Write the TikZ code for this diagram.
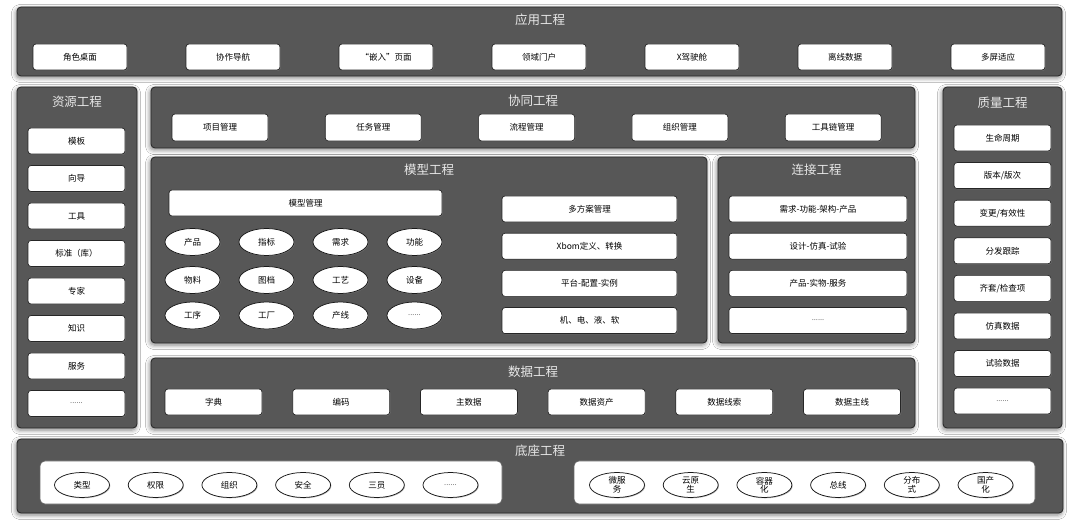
\documentclass[tikz,border=0pt]{standalone}
\usepackage{fontspec}
\setmainfont{Noto Sans CJK SC}
\usetikzlibrary{shapes.geometric,shadows,shadows.blur}
\definecolor{panelc}{HTML}{575757}
\definecolor{titlec}{HTML}{E8E8E8}
\definecolor{dotc}{HTML}{707070}
\newcommand{\mydots}{\textcolor{dotc}{\fontsize{7.5}{7.5}\selectfont ......}}
\begin{document}
\begin{tikzpicture}[x=1pt,y=-1pt,
  panel/.style={draw=black!85, fill=panelc, rounded corners=4pt, line width=0.8pt,
    blur shadow={shadow xshift=-1pt, shadow yshift=-2pt, shadow blur radius=4.5pt, shadow opacity=50}},
  inner/.style={draw=black!60, fill=white, rounded corners=5pt, line width=0.6pt},
  ptitle/.style={text=titlec, font=\fontsize{12.5}{13}\selectfont, inner sep=0pt},
  wbox/.style={draw=black!85, fill=white, rounded corners=3pt, line width=0.7pt,
    font=\fontsize{8.5}{9}\selectfont, inner sep=0pt,
    drop shadow={shadow xshift=0.8pt, shadow yshift=-0.8pt, opacity=0.55}},
  ell/.style={ellipse, draw=black!90, fill=white, line width=0.75pt, inner sep=0pt,
    minimum width=55pt, minimum height=27pt, font=\fontsize{8.5}{9}\selectfont,
    drop shadow={shadow xshift=0.8pt, shadow yshift=-0.8pt, opacity=0.55}}
]
\fill[white] (0,0) rectangle (1080,521);
\useasboundingbox (0,0) rectangle (1080,521);

% ---------- panels ----------
\node[panel, minimum width=1045pt, minimum height=69pt] (app) at (539.5,41.5) {};
\node[panel, minimum width=120pt, minimum height=341pt] (res) at (77,257.5) {};
\node[panel, minimum width=764pt, minimum height=61pt] (col) at (533,117.5) {};
\node[panel, minimum width=556pt, minimum height=186pt] (mod) at (429,250) {};
\node[panel, minimum width=197pt, minimum height=186pt] (con) at (816.5,250) {};
\node[panel, minimum width=119pt, minimum height=341pt] (qua) at (1002.5,257.5) {};
\node[panel, minimum width=764pt, minimum height=70pt] (dat) at (533,393) {};
\node[panel, minimum width=1046pt, minimum height=74pt] (bas) at (540,476) {};
\node[inner, minimum width=462pt, minimum height=43pt] (basL) at (271,482.5) {};
\node[inner, minimum width=461pt, minimum height=43pt] (basR) at (804.5,482.5) {};

% ---------- titles ----------
\node[ptitle] (appT) at (540,20) {应用工程};
\node[ptitle] (resT) at (77,102) {资源工程};
\node[ptitle] (colT) at (533,101) {协同工程};
\node[ptitle] (modT) at (429,170) {模型工程};
\node[ptitle] (conT) at (816.5,170) {连接工程};
\node[ptitle] (quaT) at (1002.5,103) {质量工程};
\node[ptitle] (datT) at (533,372) {数据工程};
\node[ptitle] (basT) at (540,451) {底座工程};

% ---------- application ----------
\foreach \t [count=\i from 0] in {角色桌面,协作导航,“嵌入”页面,领域门户,X驾驶舱,离线数据,多屏适应}
  \node[wbox, minimum width=94pt, minimum height=26pt] (app\i) at (80+153*\i,57) {\t};

% ---------- resources ----------
\foreach \t [count=\i from 0] in {模板,向导,工具,标准（库）,专家,知识,服务}
  \node[wbox, minimum width=97pt, minimum height=26pt] (res\i) at (76.5,141+37.5*\i) {\t};
\node[wbox, minimum width=97pt, minimum height=26pt] (res7) at (76.5,403.5) {\mydots};

% ---------- collaboration ----------
\foreach \t [count=\i from 0] in {项目管理,任务管理,流程管理,组织管理,工具链管理}
  \node[wbox, minimum width=96pt, minimum height=27pt] (col\i) at (220+153.3*\i,127.5) {\t};

% ---------- model ----------
\node[wbox, minimum width=273pt, minimum height=26pt] (mm) at (305.5,203) {模型管理};
\foreach \t [count=\i from 0] in {产品,指标,需求,功能}
  \node[ell] (ea\i) at (192.5+74*\i,242) {\t};
\foreach \t [count=\i from 0] in {物料,图档,工艺,设备}
  \node[ell] (eb\i) at (192.5+74*\i,280) {\t};
\foreach \t [count=\i from 0] in {工序,工厂,产线}
  \node[ell] (ec\i) at (192.5+74*\i,315.5) {\t};
\node[ell] (ec3) at (414.5,315.5) {\mydots};
\foreach \t [count=\i from 0] in {多方案管理,Xbom定义、转换,平台-配置-实例,机、电、液、软}
  \node[wbox, minimum width=175pt, minimum height=26pt] (mr\i) at (589.5,209+37.2*\i) {\t};

% ---------- connection ----------
\foreach \t [count=\i from 0] in {需求-功能-架构-产品,设计-仿真-试验,产品-实物-服务}
  \node[wbox, minimum width=178pt, minimum height=26pt] (cn\i) at (818,209+37.2*\i) {\t};
\node[wbox, minimum width=178pt, minimum height=26pt] (cn3) at (818,320.5) {\mydots};

% ---------- quality ----------
\foreach \t [count=\i from 0] in {生命周期,版本/版次,变更/有效性,分发跟踪,齐套/检查项,仿真数据,试验数据}
  \node[wbox, minimum width=97pt, minimum height=26pt] (qu\i) at (1002.5,138+37.6*\i) {\t};
\node[wbox, minimum width=97pt, minimum height=26pt] (qu7) at (1002.5,401) {\mydots};

% ---------- data ----------
\foreach \t [count=\i from 0] in {字典,编码,主数据,数据资产,数据线索,数据主线}
  \node[wbox, minimum width=97pt, minimum height=26pt] (da\i) at (213.5+127.7*\i,402) {\t};

% ---------- base ----------
\foreach \t [count=\i from 0] in {类型,权限,组织,安全,三员}
  \node[ell, minimum height=25pt] (bl\i) at (82+73.7*\i,485) {\t};
\node[ell, minimum height=25pt] (bl5) at (450.5,485) {\mydots};
\foreach \t [count=\i from 0] in {微服\\务,云原\\生,容器\\化,总线,分布\\式,国产\\化}
  \node[ell, minimum height=25pt, align=center, font=\fontsize{8.5}{8.5}\selectfont] (br\i) at (617+73.7*\i,485) {\t};
\end{tikzpicture}
\end{document}
